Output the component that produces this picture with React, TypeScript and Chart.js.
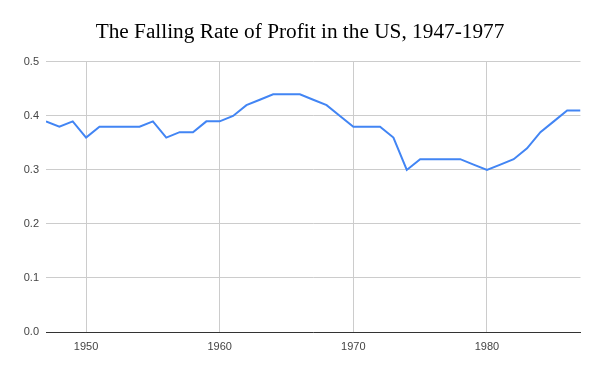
import React, { useEffect, useRef } from "react";
import { Chart, registerables } from "chart.js";

Chart.register(...registerables);

const years: number[] = [
  1947, 1948, 1949, 1950, 1951, 1952, 1953, 1954, 1955, 1956, 1957, 1958, 1959,
  1960, 1961, 1962, 1963, 1964, 1965, 1966, 1967, 1968, 1969, 1970, 1971, 1972,
  1973, 1974, 1975, 1976, 1977, 1978, 1979, 1980, 1981, 1982, 1983, 1984, 1985,
  1986, 1987,
];
const profitRate: number[] = [
  0.39, 0.38, 0.39, 0.36, 0.38, 0.38, 0.38, 0.38, 0.39, 0.36, 0.37, 0.37, 0.39,
  0.39, 0.4, 0.42, 0.43, 0.44, 0.44, 0.44, 0.43, 0.42, 0.4, 0.38, 0.38, 0.38,
  0.36, 0.3, 0.32, 0.32, 0.32, 0.32, 0.31, 0.3, 0.31, 0.32, 0.34, 0.37, 0.39,
  0.41, 0.41,
];
const xTickValues: number[] = [1950, 1960, 1970, 1980];
const yTickValues: number[] = [0, 0.1, 0.2, 0.3, 0.4, 0.5];
const titleText = "The Falling Rate of Profit in the US, 1947-1977";

export default function App() {
  const ref = useRef<HTMLCanvasElement | null>(null);
  useEffect(() => {
    if (!ref.current) return;
    const chart = new Chart(ref.current, {
      type: "line",
      data: {
        datasets: [
          {
            data: years.map((y, i) => ({ x: y, y: profitRate[i] })),
            borderColor: "#4285F4",
            backgroundColor: "#4285F4",
            borderWidth: 2,
            pointRadius: 0,
            tension: 0,
            fill: false,
          },
        ],
      },
      options: {
        animation: false,
        responsive: false,
        maintainAspectRatio: false,
        layout: { padding: { left: 19.5, right: 19.5, top: 0, bottom: 0 } },
        plugins: {
          legend: { display: false },
          tooltip: { enabled: false },
          title: {
            display: true,
            text: titleText,
            color: "#000",
            font: { family: "'Liberation Serif', serif", size: 21.3, weight: "normal", lineHeight: 1.2 },
            padding: { top: 20, bottom: 16.4 },
          },
        },
        scales: {
          x: {
            type: "linear",
            min: 1947,
            max: 1987,
            afterBuildTicks: (s: any) => {
              s.ticks = xTickValues.map((v) => ({ value: v }));
            },
            afterFit: (s: any) => {
              s.height = 39;
            },
            ticks: {
              color: "#444",
              font: { family: "Arial, 'Liberation Sans', sans-serif", size: 11 },
              padding: 8,
              maxRotation: 0,
              callback: (v: any) => String(v),
            },
            grid: { color: "#cccccc", drawTicks: false, lineWidth: 1 },
            border: { display: true, color: "#333333", width: 1 },
          },
          y: {
            min: 0,
            max: 0.5,
            afterBuildTicks: (s: any) => {
              s.ticks = yTickValues.map((v) => ({ value: v }));
            },
            afterFit: (s: any) => {
              s.width = 26.5;
            },
            ticks: {
              color: "#444",
              font: { family: "Arial, 'Liberation Sans', sans-serif", size: 11 },
              padding: 7,
              callback: (v: any) => Number(v).toFixed(1),
            },
            grid: { color: "#cccccc", drawTicks: false, lineWidth: 1 },
            border: { display: false },
          },
        },
      },
    });
    return () => chart.destroy();
  }, []);
  return (
    <div style={{ position: "fixed", left: 0, top: 0, width: 600, height: 371, background: "#fff" }}>
      <canvas ref={ref} width={600} height={371} style={{ width: 600, height: 371 }} />
    </div>
  );
}
